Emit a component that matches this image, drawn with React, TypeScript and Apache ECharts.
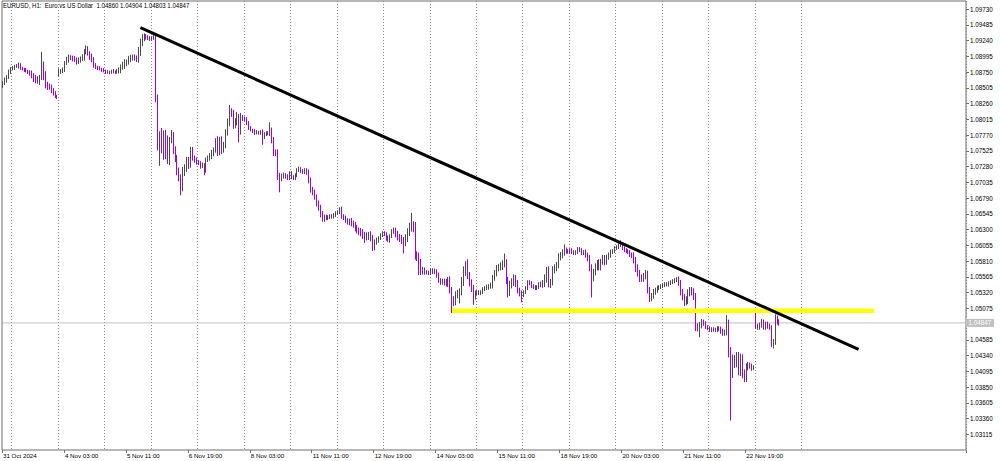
import React, { useEffect, useRef } from "react";
import * as echarts from "echarts";

// ---------- text ----------
const symbolTitle = "EURUSD, H1:  Euro vs US Dollar";
const tickLabels = [
  "31 Oct 2024", "4 Nov 03:00", "5 Nov 11:00", "6 Nov 19:00", "8 Nov 03:00",
  "11 Nov 11:00", "12 Nov 19:00", "14 Nov 03:00", "15 Nov 11:00", "18 Nov 19:00",
  "20 Nov 03:00", "21 Nov 11:00", "22 Nov 19:00",
];
const priceTicks = [
  1.03115, 1.0336, 1.03605, 1.0385, 1.04095, 1.0434, 1.04585, 1.0483, 1.05075, 1.0532,
  1.05565, 1.0581, 1.06055, 1.063, 1.06545, 1.0679, 1.07035, 1.0728, 1.07525, 1.0777,
  1.08015, 1.0826, 1.08505, 1.0875, 1.08995, 1.0924, 1.09485, 1.0973,
];
const barsPerTick = 32;
const firstSeparatorBar = 5;
const barsPerDay = 24;
const lastSeparatorBar = 413;
const slotCount = 498;

// ---------- hourly closes per trading day ----------
const c31Oct = [1.08578, 1.08625, 1.08672, 1.08749, 1.08796];
const c01Nov = [1.08812, 1.08843, 1.08835, 1.08858, 1.08812, 1.08796, 1.08781, 1.08765, 1.08749, 1.08734, 1.08703, 1.08656, 1.08625, 1.08609, 1.08656, 1.08874, 1.08703, 1.08547, 1.08532, 1.08516, 1.08469, 1.08423, 1.08376, 1.0836];
const c04Nov = [1.08749, 1.08765, 1.08781, 1.0889, 1.08936, 1.08983, 1.08975, 1.08967, 1.08936, 1.08905, 1.08936, 1.08952, 1.08967, 1.09076, 1.09123, 1.09045, 1.08998, 1.08952, 1.08858, 1.08827, 1.08812, 1.08796, 1.08781, 1.08765];
const c05Nov = [1.08749, 1.08744, 1.08752, 1.08765, 1.08749, 1.08755, 1.08765, 1.08781, 1.08827, 1.08858, 1.0889, 1.08905, 1.08952, 1.08967, 1.08983, 1.08967, 1.08936, 1.09061, 1.09201, 1.09279, 1.0931, 1.09294, 1.09279, 1.09263];
const c06Nov = [1.09279, 1.09294, 1.0836, 1.07691, 1.07769, 1.07535, 1.078, 1.07644, 1.0738, 1.07691, 1.07769, 1.07535, 1.07411, 1.07224, 1.07099, 1.06944, 1.07193, 1.07255, 1.0738, 1.07302, 1.07535, 1.07411, 1.0738, 1.07349];
const c07Nov = [1.07333, 1.07286, 1.07302, 1.07224, 1.0738, 1.07411, 1.07442, 1.07489, 1.07535, 1.07691, 1.07504, 1.07691, 1.07535, 1.07613, 1.078, 1.07956, 1.08127, 1.08111, 1.07925, 1.07971, 1.08049, 1.07816, 1.08033, 1.08027];
const c08Nov = [1.08018, 1.07956, 1.07878, 1.07847, 1.07831, 1.078, 1.07816, 1.07805, 1.07816, 1.07738, 1.07784, 1.078, 1.07795, 1.07847, 1.07691, 1.07504, 1.07489, 1.07131, 1.07099, 1.07131, 1.07146, 1.07131, 1.07099, 1.07177];
const c11Nov = [1.07115, 1.07099, 1.07146, 1.07224, 1.0724, 1.07209, 1.07193, 1.07224, 1.07193, 1.07068, 1.06913, 1.06882, 1.06804, 1.0671, 1.06633, 1.06539, 1.06461, 1.06492, 1.06477, 1.06492, 1.06508, 1.065, 1.06524, 1.06555];
const c12Nov = [1.0657, 1.06617, 1.06508, 1.06477, 1.06446, 1.06415, 1.0643, 1.06399, 1.06368, 1.06321, 1.0629, 1.06275, 1.06244, 1.06213, 1.06181, 1.06197, 1.06213, 1.06166, 1.06026, 1.06104, 1.06135, 1.06166, 1.06213, 1.06244];
const c13Nov = [1.06228, 1.06166, 1.06135, 1.06197, 1.06275, 1.0629, 1.06228, 1.06181, 1.06166, 1.06135, 1.06088, 1.06166, 1.06259, 1.06337, 1.06368, 1.06337, 1.05901, 1.0587, 1.05792, 1.05652, 1.05668, 1.05637, 1.0563, 1.05621];
const c14Nov = [1.05668, 1.05637, 1.05652, 1.0559, 1.05512, 1.05481, 1.05496, 1.05481, 1.05465, 1.05512, 1.05356, 1.05201, 1.0517, 1.05279, 1.0531, 1.05325, 1.05481, 1.05637, 1.05777, 1.0559, 1.05465, 1.05388, 1.05248, 1.0531];
const c15Nov = [1.05325, 1.0531, 1.05325, 1.05372, 1.05388, 1.05403, 1.05419, 1.05434, 1.05543, 1.05621, 1.05699, 1.05714, 1.0573, 1.05761, 1.05777, 1.05512, 1.05325, 1.05434, 1.05481, 1.05543, 1.05465, 1.05356, 1.0531, 1.05279];
const c18Nov = [1.05325, 1.05388, 1.05481, 1.05465, 1.05419, 1.05403, 1.05388, 1.05403, 1.0545, 1.05443, 1.05465, 1.05543, 1.05668, 1.0545, 1.05481, 1.05668, 1.05699, 1.05746, 1.0587, 1.05901, 1.05932, 1.05979, 1.05964, 1.05955];
const c19Nov = [1.05979, 1.05948, 1.05932, 1.05948, 1.05995, 1.05979, 1.05932, 1.05948, 1.05901, 1.05855, 1.05699, 1.05543, 1.05637, 1.05714, 1.05777, 1.05714, 1.05792, 1.05855, 1.05792, 1.0587, 1.05901, 1.05948, 1.05964, 1.0601];
const c20Nov = [1.06026, 1.06057, 1.06072, 1.0601, 1.05979, 1.05964, 1.05948, 1.05901, 1.05895, 1.05823, 1.05699, 1.05621, 1.05543, 1.05536, 1.05574, 1.05621, 1.05356, 1.05232, 1.05263, 1.05325, 1.05356, 1.05388, 1.05403, 1.05419];
const c21Nov = [1.05434, 1.0545, 1.05443, 1.05465, 1.05481, 1.05496, 1.05512, 1.05528, 1.05465, 1.05325, 1.05248, 1.0517, 1.05201, 1.0531, 1.05356, 1.05325, 1.05263, 1.04781, 1.04765, 1.04812, 1.04858, 1.04843, 1.04781, 1.04765];
const c22Nov = [1.04734, 1.04749, 1.04742, 1.04734, 1.04765, 1.04749, 1.04718, 1.04687, 1.04703, 1.04858, 1.04391, 1.0408, 1.04267, 1.04236, 1.04314, 1.04111, 1.04298, 1.04064, 1.03987, 1.04158, 1.04189, 1.04174, 1.04142, 1.04158];
const c25Nov = [1.04796, 1.04781, 1.04812, 1.04858, 1.04781, 1.04827, 1.04796, 1.04781, 1.04501, 1.04547, 1.04921, 1.0486, 1.04847];

// opens that differ from the previous close (session gaps)
const gapOpens: Record<number, number> = { 0: 1.08532, 29: 1.08734, 389: 1.04812 };

// upper / lower wick length in pips, per day
const up31Oct = [3, 4, 3, 4, 3];
const dn31Oct = [3, 3, 4, 3, 3];
const up01Nov = [3, 2, 3, 4, 3, 2, 2, 3, 2, 3, 4, 3, 5, 6, 5, 19, 4, 6, 5, 4, 4, 3, 3, 2];
const dn01Nov = [2, 3, 2, 3, 3, 2, 3, 2, 3, 4, 5, 6, 5, 4, 6, 3, 8, 5, 6, 4, 5, 4, 3, 3];
const up04Nov = [6, 3, 4, 3, 5, 4, 3, 3, 3, 4, 4, 4, 6, 3, 4, 3, 3, 4, 3, 3, 2, 3, 2, 3];
const dn04Nov = [5, 3, 3, 3, 3, 4, 4, 5, 3, 4, 3, 4, 3, 4, 5, 4, 6, 5, 4, 3, 3, 2, 3, 2];
const up05Nov = [2, 3, 2, 2, 3, 2, 3, 4, 4, 5, 6, 4, 5, 5, 4, 4, 4, 8, 7, 6, 4, 3, 3, 3];
const dn05Nov = [3, 2, 3, 3, 2, 3, 3, 4, 5, 4, 6, 5, 4, 5, 4, 4, 3, 4, 6, 5, 5, 4, 3, 3];
const up06Nov = [3, 6, 3, 4, 6, 11, 4, 5, 12, 5, 8, 5, 6, 5, 4, 6, 8, 6, 5, 5, 5, 5, 4, 4];
const dn06Nov = [3, 3, 8, 16, 40, 5, 15, 25, 6, 8, 5, 6, 6, 8, 5, 11, 5, 6, 6, 6, 4, 4, 4, 4];
const up07Nov = [3, 3, 4, 3, 4, 4, 5, 5, 4, 3, 6, 5, 6, 5, 6, 7, 11, 6, 5, 6, 8, 5, 8, 5];
const dn07Nov = [3, 4, 3, 8, 4, 3, 4, 5, 5, 4, 6, 5, 6, 4, 5, 4, 5, 6, 6, 5, 5, 16, 4, 4];
const up08Nov = [3, 3, 3, 3, 2, 3, 3, 2, 3, 4, 3, 3, 3, 12, 4, 5, 4, 6, 5, 4, 4, 3, 3, 3];
const dn08Nov = [3, 3, 3, 2, 3, 3, 2, 3, 3, 12, 3, 3, 3, 4, 5, 6, 5, 6, 22, 5, 4, 4, 3, 3];
const up11Nov = [3, 3, 3, 3, 4, 3, 3, 3, 3, 4, 4, 5, 4, 4, 4, 5, 5, 4, 4, 3, 3, 3, 3, 3];
const dn11Nov = [3, 3, 3, 3, 3, 3, 3, 3, 4, 5, 4, 5, 4, 5, 4, 5, 4, 4, 3, 3, 3, 3, 3, 3];
const up12Nov = [3, 3, 4, 3, 4, 3, 4, 5, 4, 5, 5, 4, 5, 6, 5, 6, 5, 6, 5, 4, 4, 3, 3, 3];
const dn12Nov = [3, 3, 4, 3, 4, 4, 5, 5, 4, 5, 5, 6, 5, 6, 9, 5, 6, 5, 6, 5, 4, 4, 3, 3];
const up13Nov = [3, 3, 4, 3, 3, 4, 4, 5, 5, 5, 5, 6, 6, 7, 19, 6, 8, 6, 7, 5, 5, 4, 3, 3];
const dn13Nov = [3, 4, 3, 4, 3, 4, 5, 5, 6, 6, 16, 5, 6, 6, 7, 8, 7, 6, 20, 6, 5, 4, 3, 3];
const up14Nov = [3, 3, 4, 3, 4, 3, 4, 4, 5, 5, 6, 5, 6, 6, 5, 6, 8, 9, 3, 6, 5, 6, 5, 4];
const dn14Nov = [3, 3, 3, 4, 4, 4, 4, 5, 5, 6, 5, 20, 6, 5, 5, 16, 5, 6, 6, 6, 5, 6, 12, 4];
const up15Nov = [3, 3, 3, 3, 3, 4, 3, 4, 5, 5, 5, 5, 6, 6, 15, 6, 5, 7, 6, 6, 5, 5, 4, 4];
const dn15Nov = [3, 3, 3, 3, 3, 3, 4, 4, 5, 4, 5, 5, 5, 6, 5, 6, 8, 6, 5, 6, 6, 5, 5, 11];
const up18Nov = [3, 3, 3, 3, 3, 3, 3, 3, 3, 4, 5, 6, 5, 6, 5, 6, 6, 5, 6, 5, 6, 9, 4, 3];
const dn18Nov = [3, 3, 3, 3, 3, 3, 3, 3, 3, 4, 5, 6, 7, 5, 6, 5, 5, 5, 5, 5, 5, 4, 4, 3];
const up19Nov = [3, 3, 3, 3, 3, 3, 3, 3, 4, 4, 5, 6, 5, 6, 5, 6, 5, 5, 5, 4, 4, 4, 3, 3];
const dn19Nov = [3, 3, 3, 3, 3, 3, 3, 3, 4, 5, 5, 30, 5, 5, 5, 5, 5, 4, 5, 4, 4, 4, 3, 3];
const up20Nov = [3, 3, 6, 3, 3, 3, 3, 3, 4, 5, 5, 6, 5, 6, 5, 5, 4, 5, 5, 5, 4, 4, 3, 3];
const dn20Nov = [3, 3, 3, 3, 3, 3, 3, 3, 4, 5, 6, 5, 6, 5, 5, 5, 5, 6, 5, 4, 4, 4, 3, 3];
const up21Nov = [3, 3, 3, 3, 3, 3, 3, 3, 4, 5, 5, 5, 6, 6, 5, 5, 6, 5, 6, 5, 5, 4, 3, 3];
const dn21Nov = [3, 3, 3, 3, 3, 3, 3, 3, 4, 5, 5, 6, 5, 6, 5, 5, 6, 6, 5, 14, 5, 4, 3, 3];
const up22Nov = [3, 3, 3, 3, 3, 3, 4, 4, 4, 11, 4, 8, 9, 8, 8, 8, 7, 6, 6, 6, 5, 4, 4, 3];
const dn22Nov = [3, 3, 3, 3, 3, 3, 4, 4, 4, 5, 8, 75, 9, 9, 8, 8, 9, 8, 6, 6, 5, 4, 4, 3];
const up25Nov = [20, 4, 4, 5, 4, 4, 4, 4, 3, 5, 6, 4, 4.4];
const dn25Nov = [4, 4, 4, 4, 4, 4, 4, 4, 3, 5, 4, 4, 4.4];

// drawn objects (bar index, price)
const trendLine = [[71, 1.0944], [442, 1.04435]];
const supportLine = [[232, 1.05037], [450, 1.05037]];

// price scale
const priceMin = 1.0287;
const priceMax = 1.09855;
const priceStep = 0.00245;

const closes = [
  ...c31Oct, ...c01Nov, ...c04Nov, ...c05Nov, ...c06Nov, ...c07Nov, ...c08Nov,
  ...c11Nov, ...c12Nov, ...c13Nov, ...c14Nov, ...c15Nov,
  ...c18Nov, ...c19Nov, ...c20Nov, ...c21Nov, ...c22Nov, ...c25Nov,
];
const wickUp = [
  ...up31Oct, ...up01Nov, ...up04Nov, ...up05Nov, ...up06Nov, ...up07Nov, ...up08Nov,
  ...up11Nov, ...up12Nov, ...up13Nov, ...up14Nov, ...up15Nov,
  ...up18Nov, ...up19Nov, ...up20Nov, ...up21Nov, ...up22Nov, ...up25Nov,
];
const wickDown = [
  ...dn31Oct, ...dn01Nov, ...dn04Nov, ...dn05Nov, ...dn06Nov, ...dn07Nov, ...dn08Nov,
  ...dn11Nov, ...dn12Nov, ...dn13Nov, ...dn14Nov, ...dn15Nov,
  ...dn18Nov, ...dn19Nov, ...dn20Nov, ...dn21Nov, ...dn22Nov, ...dn25Nov,
];

const PIP = 0.0001;
const candles = closes.map((c, i) => {
  const o = gapOpens[i] !== undefined ? gapOpens[i] : closes[i - 1];
  const h = Math.max(o, c) + wickUp[i] * PIP;
  const l = Math.min(o, c) - wickDown[i] * PIP;
  return [o, c, +l.toFixed(5), +h.toFixed(5)];
});
const last = candles[candles.length - 1];
const lastClose = last[1];
const titleText = `${symbolTitle}  ${last[0].toFixed(5)} ${last[3].toFixed(5)} ${last[2].toFixed(5)} ${last[1].toFixed(5)}`;
const priceLine = [[0, lastClose], [slotCount - 1, lastClose]];

const slots = Array.from({ length: slotCount }, (_, i) => String(i));

const FONT = "Liberation Sans";
const BULL = "#4a4a4a";
const BEAR = "#9a00ea";
const FRAME = "#6e6e6e";
const GRID_RIGHT = 34;

const isTick = (i: number) => i % barsPerTick === 0 && i / barsPerTick < tickLabels.length;
const isSeparator = (i: number) =>
  i >= firstSeparatorBar && i <= lastSeparatorBar && (i - firstSeparatorBar) % barsPerDay === 0;

const option: any = {
  animation: false,
  backgroundColor: "#ffffff",
  textStyle: { fontFamily: FONT },
  grid: {
    left: 1,
    right: GRID_RIGHT,
    top: 1,
    bottom: 11,
    show: true,
    borderColor: FRAME,
    borderWidth: 1,
    backgroundColor: "transparent",
  },
  xAxis: {
    type: "category",
    data: slots,
    boundaryGap: true,
    axisLine: { show: false },
    axisTick: {
      show: true,
      length: 3,
      interval: (i: number) => isTick(i),
      lineStyle: { color: FRAME },
    },
    axisLabel: {
      interval: (i: number) => isTick(i),
      formatter: (_v: string, i: number) => (isTick(i) ? tickLabels[i / barsPerTick] : ""),
      fontSize: 6.2,
      color: "#000",
      align: "left",
      margin: 2,
      fontFamily: FONT,
    },
    splitLine: {
      show: true,
      interval: (i: number) => isSeparator(i),
      lineStyle: { color: "#8a8a8a", type: [1, 2], width: 1 },
    },
  },
  yAxis: {
    type: "value",
    position: "right",
    min: priceMin,
    max: priceMax,
    interval: priceStep,
    axisLine: { show: false },
    axisTick: {
      show: true,
      length: 3,
      customValues: priceTicks,
      lineStyle: { color: FRAME },
    },
    axisLabel: { show: false },
    splitLine: { show: false },
  },
  series: [
    {
      type: "line",
      data: priceLine,
      symbol: "none",
      silent: true,
      z: 1,
      lineStyle: { color: "#c0c0c0", width: 1 },
    },
    {
      type: "candlestick",
      data: candles,
      barWidth: 1.3,
      itemStyle: {
        color: BULL,
        color0: BEAR,
        borderColor: BULL,
        borderColor0: BEAR,
        borderWidth: 1,
      },
      silent: true,
      z: 2,
    },
    {
      type: "line",
      data: supportLine,
      symbol: "none",
      silent: true,
      z: 4,
      lineStyle: { color: "#ffff00", width: 4.5 },
    },
    {
      type: "line",
      data: trendLine,
      symbol: "none",
      silent: true,
      z: 5,
      lineStyle: { color: "#000000", width: 3 },
    },
  ],
};

export default function App() {
  const ref = useRef<HTMLDivElement>(null);
  useEffect(() => {
    if (!ref.current) return;
    const chart = echarts.init(ref.current, null, { renderer: "svg" });
    chart.setOption(option);
    const toY = (p: number) => chart.convertToPixel({ yAxisIndex: 0 }, p) as number;
    const xRight = chart.getWidth() - GRID_RIGHT;
    const yPx = toY(lastClose);
    const priceLabels = priceTicks
      .filter((p) => Math.abs(p - lastClose) >= priceStep / 2)
      .map((p, k) => ({
        id: `yl${k}`,
        type: "text",
        x: xRight + 4,
        y: toY(p),
        style: {
          text: p.toFixed(5),
          fill: "#000000",
          fontSize: 6.3,
          fontFamily: FONT,
          verticalAlign: "middle",
          align: "left",
        },
        z: 12,
        silent: true,
      }));
    chart.setOption({
      graphic: [
        {
          id: "title",
          type: "text",
          x: 3,
          y: 6,
          scaleX: 0.76,
          style: {
            text: titleText,
            fill: "#000000",
            fontSize: 8,
            fontFamily: FONT,
            verticalAlign: "middle",
            align: "left",
          },
          z: 12,
          silent: true,
        },
        ...priceLabels,
        {
          id: "priceBox",
          type: "rect",
          shape: { x: xRight, y: yPx - 4, width: 28, height: 8 },
          style: { fill: "#c0c0c0" },
          z: 10,
          silent: true,
        },
        {
          id: "priceText",
          type: "text",
          x: xRight + 2.5,
          y: yPx,
          style: {
            text: lastClose.toFixed(5),
            fill: "#ffffff",
            fontSize: 6.3,
            fontFamily: FONT,
            verticalAlign: "middle",
            align: "left",
          },
          z: 11,
          silent: true,
        },
      ],
    });
    return () => chart.dispose();
  }, []);
  return (
    <div
      ref={ref}
      style={{ position: "fixed", left: 0, top: 0, width: 1000, height: 461, background: "#fff" }}
    />
  );
}
